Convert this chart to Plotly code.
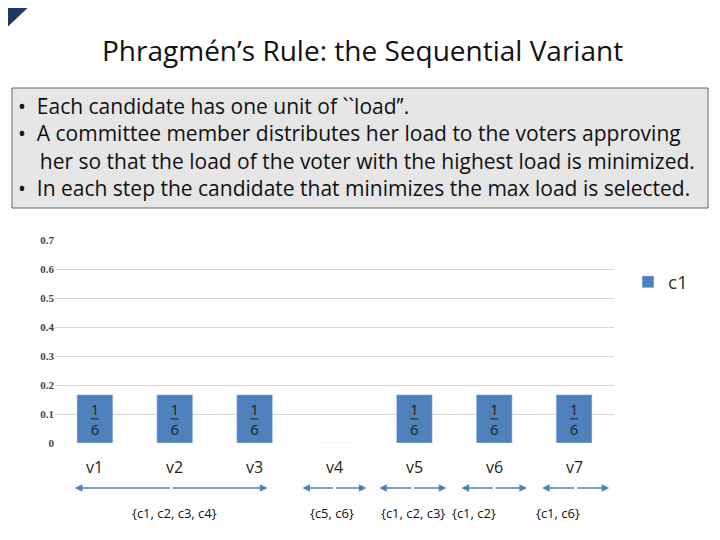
import plotly.graph_objects as go

voters = ["v1", "v2", "v3", "v4", "v5", "v6", "v7"]
loads = [1/6, 1/6, 1/6, 0, 1/6, 1/6, 1/6]
groups = ["{c1, c2, c3, c4}", "{c5, c6}", "{c1, c2, c3}", "{c1, c2}", "{c1, c6}"]
group_spans = [(-0.25, 2.16), (2.6, 3.4), (3.56, 4.4), (4.59, 5.41), (5.6, 6.44)]
group_label_x = [1.0, 2.97, 3.98, 4.75, 5.8]
y_ticks = [0, 0.1, 0.2, 0.3, 0.4, 0.5, 0.6, 0.7]

OFF = 8  # page body margin
W, H = 720, 540
L, R, T, B = 55 - OFF, 106 + OFF, 240 - OFF, 97 + OFF
UNIT = (W - L - R) / 7
def px(x): return (x - OFF - L) / (W - L - R)
def py(y): return (H - B - (y - OFF)) / (H - T - B)

fig = go.Figure(go.Bar(
    x=list(range(7)), y=loads, name="c1", marker_color="#4F81BD", width=0.45,
    text=["1<br>6" if v else "" for v in loads], textposition="inside",
    insidetextanchor="middle", textfont=dict(size=15, color="#222", family="Open Sans"),
    showlegend=True))

fig.update_layout(
    width=W, height=H, margin=dict(l=L, r=R, t=T, b=B),
    paper_bgcolor="white", plot_bgcolor="white",
    xaxis=dict(range=[-0.5, 6.5], showticklabels=False, showgrid=False, zeroline=False),
    yaxis=dict(range=[0, 0.7], tickvals=y_ticks, ticktext=[f"<b>{v}</b>" for v in y_ticks],
               tickfont=dict(size=11, family="Liberation Serif", color="#444"),
               gridcolor="#d9d9d9", zeroline=False, ticks="", ticklen=0),
    legend=dict(x=px(628), y=py(282), yanchor="middle", xanchor="left",
                font=dict(size=19, family="Open Sans", color="#333"), itemwidth=30),
    font=dict(family="Open Sans"),
)

shapes = []
for i, v in enumerate(loads):
    if v:
        shapes.append(dict(type="line", xref="x", yref="y", x0=i - 0.05, x1=i + 0.05,
                           y0=v / 2, y1=v / 2, line=dict(color="#222", width=1)))
shapes.append(dict(type="rect", xref="paper", yref="paper", x0=px(12), x1=px(708),
                   y0=py(208), y1=py(88), fillcolor="#e6e6e6", line=dict(color="#666", width=1), layer="below"))
shapes.append(dict(type="path", xref="paper", yref="paper",
                   path=f"M {px(0)} {py(0)} L {px(36)} {py(0)} L {px(0)} {py(34)} Z",
                   fillcolor="#1f3864", line=dict(width=0)))
fig.update_layout(shapes=shapes)

ann = []
ann.append(dict(text="Phragmén’s Rule: the Sequential Variant", xref="paper", yref="paper",
                x=px(362), y=py(50), xanchor="center", yanchor="middle", showarrow=False,
                font=dict(size=28, family="Open Sans", color="#111")))
bullets = ("•  Each candidate has one unit of ``load’’.<br>"
           "•  A committee member distributes her load to the voters approving<br>"
           "    her so that the load of the voter with the highest load is minimized.<br>"
           "•  In each step the candidate that minimizes the max load is selected.")
ann.append(dict(text=bullets, xref="paper", yref="paper", x=px(16), y=py(147), xanchor="left",
                yanchor="middle", align="left", showarrow=False,
                font=dict(size=21, family="Open Sans", color="#111")))
for i, v in enumerate(voters):
    ann.append(dict(text=v, xref="x", yref="paper", x=i, y=py(467), yanchor="middle", showarrow=False,
                    font=dict(size=16, family="Open Sans", color="#222")))
for (a, b), lx, g in zip(group_spans, group_label_x, groups):
    mid = (a + b) / 2
    for e in (a, b):
        ann.append(dict(x=e, y=py(488), xref="x", yref="paper",
                        axref="pixel", ayref="pixel", ax=(mid - e) * UNIT, ay=0,
                        showarrow=True, arrowhead=2, arrowsize=1,
                        arrowwidth=1.5, arrowcolor="#4F81BD", text=""))
    ann.append(dict(text=g, xref="x", yref="paper", x=lx, y=py(513), yanchor="middle", showarrow=False,
                    font=dict(size=13, family="Open Sans", color="#111")))
fig.update_layout(annotations=ann)

fig.write_html("out.html")
